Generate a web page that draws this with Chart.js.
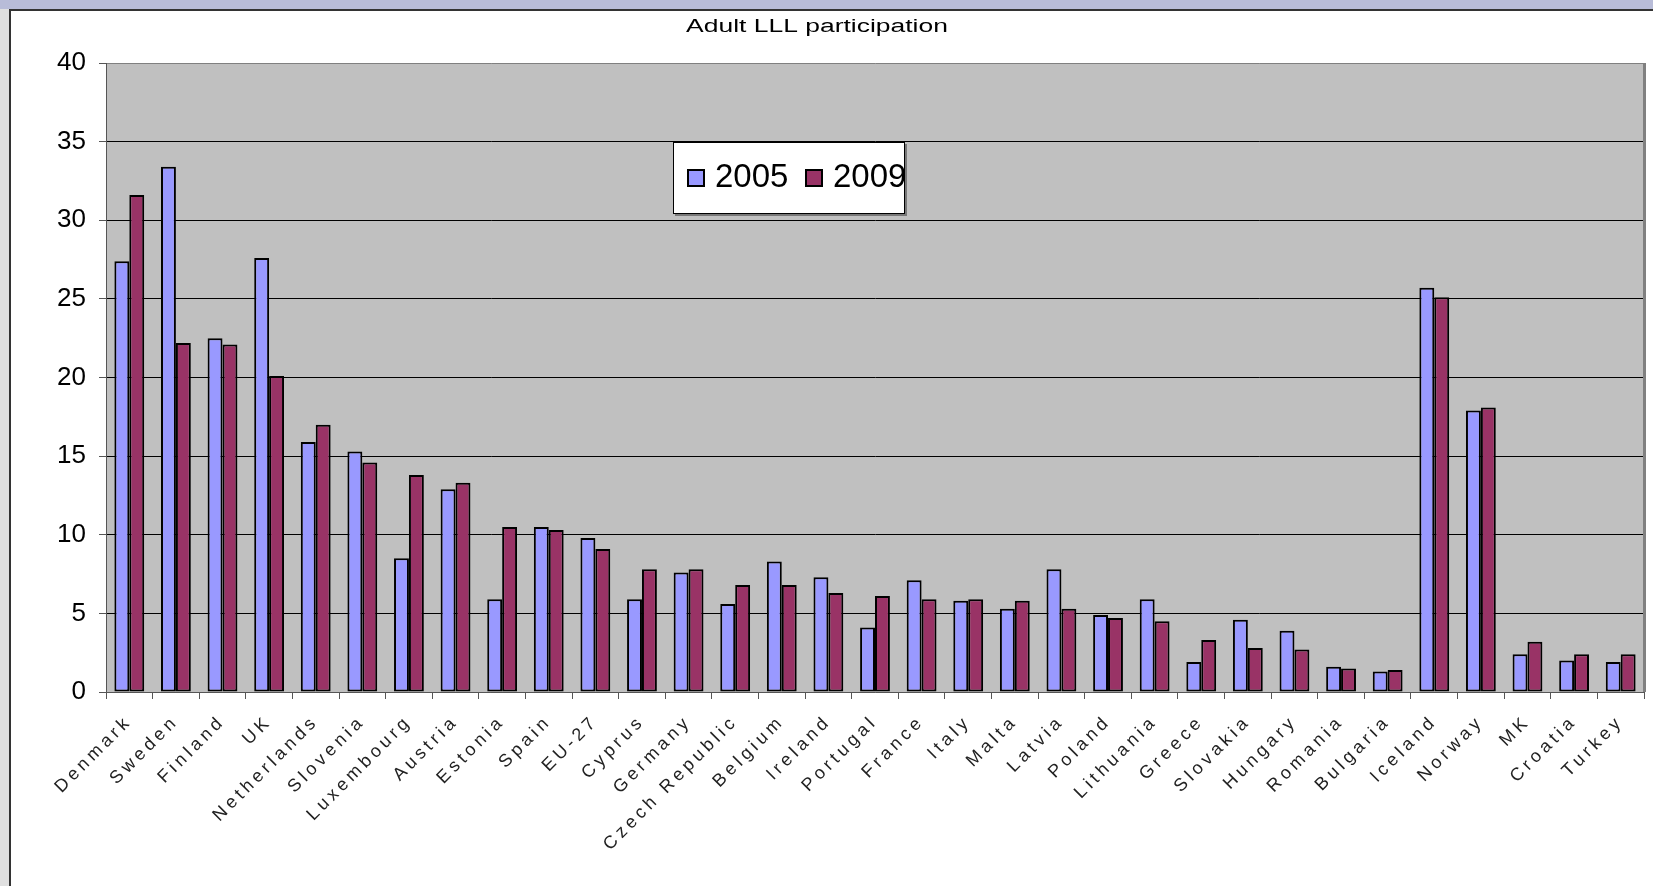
<!DOCTYPE html>
<html>
<head>
<meta charset="utf-8">
<script src="https://cdn.jsdelivr.net/npm/chart.js@4.4.1/dist/chart.umd.min.js"></script>
<style>
  html, body { margin: 0; padding: 0; background: #fff; }
  #wrap { position: relative; width: 1653px; height: 886px; overflow: hidden; }
  canvas { position: absolute; left: 0; top: 0; }
  #legend {
    position: absolute; left: 673px; top: 142px; width: 230px; height: 70px;
    background: #fff; border: 1px solid #000; box-shadow: 2px 2px 0 #777;
    font-family: "Liberation Sans", Arial, sans-serif; font-size: 33px; color: #000;
  }
  #legend .item { position: absolute; top: 14px; line-height: 38px; }
  #legend .box { position: absolute; top: 12px; width: 14px; height: 14px; border: 2px solid #000; }
  #legend .txt { position: absolute; left: 28px; top: 0; white-space: nowrap; }
</style>
</head>
<body>
<div id="wrap">
  <canvas id="c" width="1653" height="886"></canvas>
  <div id="legend"></div>
</div>
<script>
const titleText = 'Adult LLL participation';

const countries = ['Denmark', 'Sweden', 'Finland', 'UK', 'Netherlands', 'Slovenia', 'Luxembourg',
  'Austria', 'Estonia', 'Spain', 'EU-27', 'Cyprus', 'Germany', 'Czech Republic', 'Belgium',
  'Ireland', 'Portugal', 'France', 'Italy', 'Malta', 'Latvia', 'Poland', 'Lithuania', 'Greece',
  'Slovakia', 'Hungary', 'Romania', 'Bulgaria', 'Iceland', 'Norway', 'MK', 'Croatia', 'Turkey'];

const values2005 = [27.4, 33.4, 22.5, 27.6, 15.9, 15.3, 8.5, 12.9, 5.9, 10.5, 9.8, 5.9, 7.6, 5.6, 8.3,
  7.3, 4.1, 7.1, 5.8, 5.3, 7.8, 4.9, 5.9, 1.9, 4.6, 3.9, 1.6, 1.3, 25.7, 17.9, 2.4, 2.0, 1.9];

const values2009 = [31.6, 22.2, 22.1, 20.1, 17.0, 14.6, 13.8, 13.3, 10.5, 10.3, 9.1, 7.8, 7.8, 6.8, 6.8,
  6.3, 6.1, 5.9, 5.9, 5.8, 5.3, 4.7, 4.5, 3.3, 2.8, 2.7, 1.5, 1.4, 25.1, 18.1, 3.2, 2.4, 2.4];

const seriesNames = ['2005', '2009'];
const seriesColors = ['#9999ff', '#993366'];

// page frame, plot background and title
const framePlugin = {
  id: 'frame',
  beforeDraw(chart) {
    const { ctx, chartArea } = chart;
    ctx.save();
    ctx.fillStyle = '#fff';
    ctx.fillRect(0, 0, chart.width, chart.height);
    ctx.fillStyle = '#b8bcd8';
    ctx.fillRect(0, 0, chart.width, 9);
    ctx.fillStyle = '#e0e0e0';
    ctx.fillRect(0, 9, 9, chart.height);
    ctx.fillStyle = '#333';
    ctx.fillRect(9, 9, chart.width, 2);
    ctx.fillRect(9, 9, 2, chart.height);
    ctx.fillStyle = '#c0c0c0';
    ctx.fillRect(chartArea.left, chartArea.top, chartArea.right - chartArea.left, chartArea.bottom - chartArea.top);
    // title is drawn wide, like the excel original
    ctx.translate(817, 27);
    ctx.scale(1.47, 1);
    ctx.fillStyle = '#000';
    ctx.font = '18px "Liberation Sans", Arial, sans-serif';
    ctx.textAlign = 'center';
    ctx.textBaseline = 'middle';
    ctx.fillText(titleText, 0, 0);
    ctx.restore();
  },
  afterDraw(chart) {
    const { ctx, chartArea } = chart;
    ctx.save();
    ctx.fillStyle = '#808080';
    ctx.fillRect(chartArea.right - 1, chartArea.top, 3, chartArea.bottom - chartArea.top);
    ctx.restore();
  }
};

const chart = new Chart(document.getElementById('c'), {
  type: 'bar',
  plugins: [framePlugin],
  data: {
    labels: countries,
    datasets: [values2005, values2009].map((d, i) => ({
      label: seriesNames[i],
      data: d,
      backgroundColor: seriesColors[i],
      borderColor: '#000',
      borderWidth: 2,
      borderSkipped: false,
      categoryPercentage: 0.64,
      barPercentage: 1.0
    }))
  },
  options: {
    responsive: false,
    animation: false,
    devicePixelRatio: 1,
    layout: { padding: { left: 10, top: 63, right: 9, bottom: 0 } },
    plugins: {
      legend: { display: false },
      title: { display: false },
      tooltip: { enabled: false }
    },
    scales: {
      x: {
        afterFit(scale) { scale.height = 194; },
        grid: { drawOnChartArea: false, offset: true, tickLength: 7, color: '#555' },
        border: { display: true, color: '#555', width: 1 },
        ticks: {
          autoSkip: false,
          minRotation: 45,
          maxRotation: 45,
          padding: 12,
          color: '#222',
          font: { family: '"Liberation Sans", Arial, sans-serif', size: 18 }
        }
      },
      y: {
        min: 0,
        max: 40,
        afterFit(scale) { scale.width = 96; },
        grid: {
          tickLength: 7,
          color: (c) => (c.tick && (c.tick.value === 40 || c.tick.value === 0)) ? '#808080' : '#000',
          tickColor: '#555'
        },
        border: { display: true, color: '#555', width: 1 },
        ticks: {
          stepSize: 5,
          padding: 13,
          color: '#000',
          font: { family: '"Liberation Sans", Arial, sans-serif', size: 26 }
        }
      }
    }
  }
});

// category labels in the original are spaced out
const xScale = chart.scales.x;
const drawXLabels = xScale.drawLabels.bind(xScale);
xScale.drawLabels = function (area) {
  this.ctx.save();
  this.ctx.letterSpacing = '4px';
  drawXLabels(area);
  this.ctx.restore();
};
chart.draw();

// legend built from the datasets
const legend = document.getElementById('legend');
chart.data.datasets.forEach((ds, i) => {
  const item = document.createElement('div');
  item.className = 'item';
  item.style.left = (13 + i * 118) + 'px';
  const box = document.createElement('div');
  box.className = 'box';
  box.style.background = ds.backgroundColor;
  const txt = document.createElement('div');
  txt.className = 'txt';
  txt.textContent = ds.label;
  item.appendChild(box);
  item.appendChild(txt);
  legend.appendChild(item);
});
</script>
</body>
</html>
